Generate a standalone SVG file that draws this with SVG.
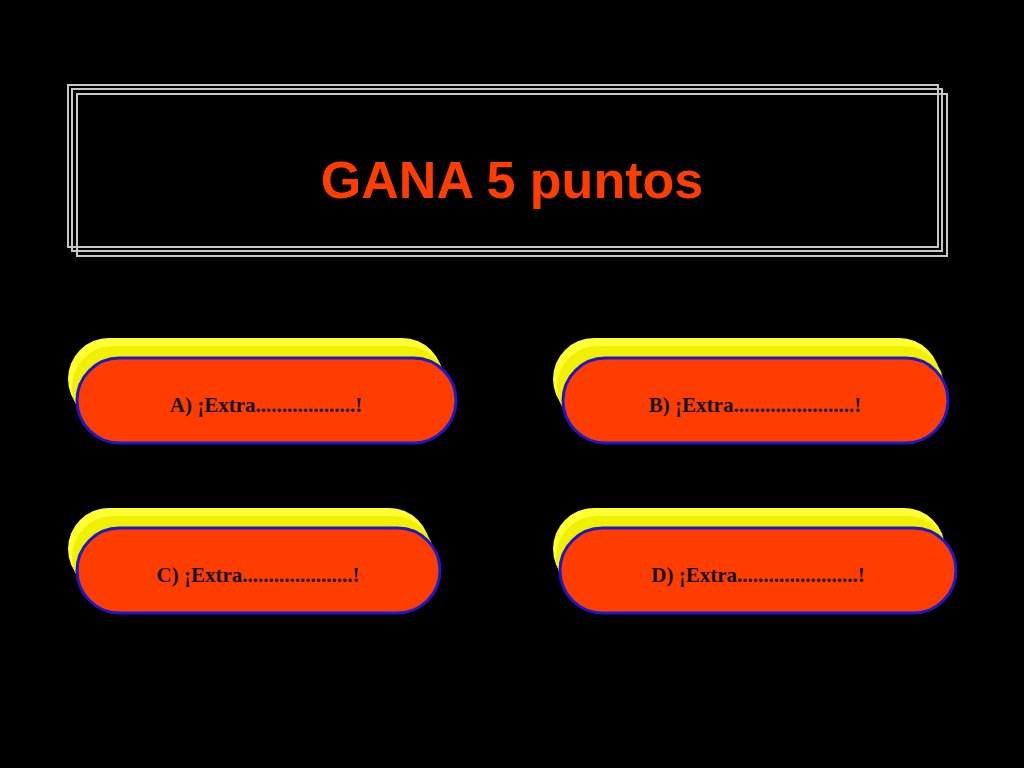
<svg xmlns="http://www.w3.org/2000/svg" width="1024" height="768" viewBox="0 0 1024 768">
<style>
.fr{fill:none;stroke:#c8c8c8;stroke-width:2}
.y1{fill:#ffff33}
.y2{fill:#f0f000}
.r{fill:#ff3d00;stroke:#1a1acc;stroke-width:3}
.t{font-family:"Liberation Serif",serif;font-weight:bold;font-size:21px;fill:#111;text-anchor:middle}
</style>
<rect width="1024" height="768" fill="#000"/>
<g id="title">
<rect class="fr" x="68" y="85" width="870" height="162"/>
<rect class="fr" x="72" y="89" width="870" height="162"/>
<rect class="fr" x="77" y="94" width="870" height="162"/>
<text x="512" y="198" font-family="Liberation Sans,sans-serif" font-weight="bold" font-size="52" fill="#ff3d00" text-anchor="middle">GANA 5 puntos</text>
</g>
<g id="A">
<rect class="y1" x="68" y="338" width="375" height="82" rx="41"/>
<rect class="y2" x="72" y="346" width="375" height="82" rx="41"/>
<rect class="r" x="77" y="358" width="379" height="85" rx="42.5"/>
<text class="t" x="266" y="412">A) ¡Extra...................!</text>
</g>
<g id="B">
<rect class="y1" x="553" y="338" width="387" height="82" rx="41"/>
<rect class="y2" x="557" y="346" width="387" height="82" rx="41"/>
<rect class="r" x="563" y="358" width="385" height="85" rx="42.5"/>
<text class="t" x="755" y="412">B) ¡Extra.......................!</text>
</g>
<g id="C">
<rect class="y1" x="68" y="508" width="362" height="82" rx="41"/>
<rect class="y2" x="72" y="516" width="362" height="82" rx="41"/>
<rect class="r" x="77" y="528" width="363" height="85" rx="42.5"/>
<text class="t" x="258" y="582">C) ¡Extra.....................!</text>
</g>
<g id="D">
<rect class="y1" x="553" y="508" width="392" height="82" rx="41"/>
<rect class="y2" x="556" y="516" width="392" height="82" rx="41"/>
<rect class="r" x="560" y="528" width="396" height="85" rx="42.5"/>
<text class="t" x="758" y="582">D) ¡Extra.......................!</text>
</g>
<g id="connectors"/>
</svg>
